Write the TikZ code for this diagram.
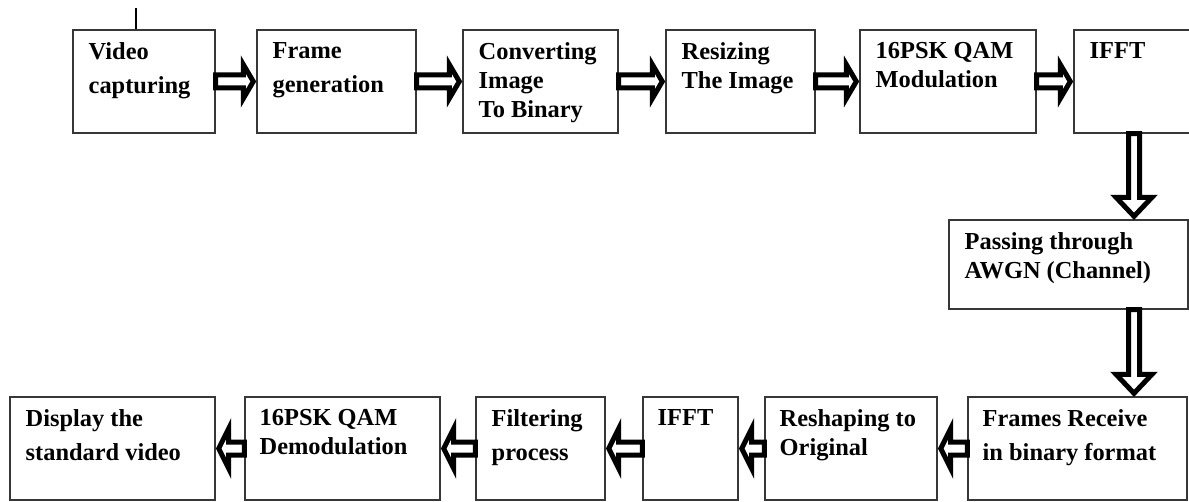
\documentclass[tikz,border=0pt]{standalone}
\usepackage{fontspec}
\setmainfont{Liberation Serif}
\usetikzlibrary{calc}
\definecolor{edge}{RGB}{55,55,55}
\tikzset{
  box/.style     ={rectangle, draw=edge, line width=0.7pt, inner sep=0pt, minimum height=51.5pt},
  txt/.style     ={anchor=north west, inner sep=0pt, align=left,
                   font=\bfseries\fontsize{12.2pt}{17pt}\selectfont},
  tighttxt/.style={txt, font=\bfseries\fontsize{12.2pt}{14.5pt}\selectfont},
  blockarr/.style n args={3}{line width=2.5pt, line join=miter, miter limit=10,
    to path={($(\tikztotarget)!#3!(\tikztostart)$) coordinate (hb)
      ($(\tikztotarget)!1.5pt!(\tikztostart)$) coordinate (tp)
      ($(\tikztostart)!#1!90:(\tikztotarget)$) -- ($(hb)!#1!90:(\tikztotarget)$)
      -- ($(hb)!#2!90:(\tikztotarget)$) -- (tp)
      -- ($(hb)!#2!-90:(\tikztotarget)$) -- ($(hb)!#1!-90:(\tikztotarget)$)
      -- ($(\tikztostart)!#1!-90:(\tikztotarget)$) -- cycle}},
  harr/.style    ={blockarr={3.25pt}{8.5pt}{6.5pt}},
  larr/.style    ={blockarr={3.25pt}{10pt}{6.5pt}},
  varr/.style    ={blockarr={2.75pt}{9pt}{11pt}},
}

\begin{document}
\begin{tikzpicture}[x=0.5pt, y=-0.5pt]
\fill[white] (0,0) rectangle (1189,502);
\path[use as bounding box, clip] (0,0) rectangle (1189,502);

% transmitter row
\node[box, minimum width=71pt]   (vid)  at (144,81.5)    {};
\node[box, minimum width=79.5pt] (frm)  at (336.5,81.5)  {};
\node[box, minimum width=77.5pt] (conv) at (540.5,81.5)  {};
\node[box, minimum width=74.5pt] (resz) at (740.5,81.5)  {};
\node[box, minimum width=88pt]   (mod)  at (948,81.5)    {};
\node[box, minimum width=60pt]   (ifft) at (1134,81.5)   {};

% channel
\node[box, minimum width=119.5pt, minimum height=44.5pt] (pass) at (1068.5,264.5) {};

% receiver row
\node[box, minimum width=109.5pt] (frec)  at (1077.5,448.5) {};
\node[box, minimum width=86pt]    (resh)  at (851,448.5)    {};
\node[box, minimum width=47.5pt]  (bifft) at (690.5,448.5)  {};
\node[box, minimum width=64.5pt]  (filt)  at (540.5,448.5)  {};
\node[box, minimum width=97.5pt]  (demod) at (342.5,448.5)  {};
\node[box, minimum width=102.5pt] (disp)  at (112.5,448.5)  {};

\node[txt]      (vidtxt)   at ($(vid.north west)+(16,13)$)   {Video\\capturing};
\node[txt]      (frmtxt)   at ($(frm.north west)+(16,13)$)   {Frame\\generation};
\node[tighttxt] (convtxt)  at ($(conv.north west)+(16,13)$)  {Converting\\Image\\To Binary};
\node[tighttxt] (resztxt)  at ($(resz.north west)+(16,13)$)  {Resizing\\The Image};
\node[tighttxt] (modtxt)   at ($(mod.north west)+(16,13)$)   {16PSK QAM\\Modulation};
\node[txt]      (iffttxt)  at ($(ifft.north west)+(16,13)$)  {IFFT};
\node[tighttxt] (passtxt)  at ($(pass.north west)+(16,13)$)  {Passing through\\AWGN (Channel)};
\node[txt]      (frectxt)  at ($(frec.north west)+(15,13)$)  {Frames Receive\\in binary format};
\node[tighttxt] (reshtxt)  at ($(resh.north west)+(15,13)$)  {Reshaping to\\Original};
\node[txt]      (biffttxt) at ($(bifft.north west)+(15,13)$) {IFFT};
\node[txt]      (filttxt)  at ($(filt.north west)+(16,13)$)  {Filtering\\process};
\node[tighttxt] (demodtxt) at ($(demod.north west)+(15,13)$) {16PSK QAM\\Demodulation};
\node[txt]      (disptxt)  at ($(disp.north west)+(16,13)$)  {Display the\\standard video};

\coordinate (tick) at (136,8);
\draw[line width=1.2pt] (tick) -- (tick |- vid.north);

\draw[harr] (vid.east)  to (frm.west);
\draw[harr] (frm.east)  to (conv.west);
\draw[harr] (conv.east) to (resz.west);
\draw[harr] (resz.east) to (mod.west);
\draw[harr] (mod.east)  to (ifft.west);
\draw[varr] (ifft.south) to (ifft.south |- pass.north);
\draw[varr] (ifft.south |- pass.south) to (ifft.south |- frec.north);
\draw[larr] (frec.west)  to (resh.east);
\draw[larr] (resh.west)  to (bifft.east);
\draw[larr] (bifft.west) to (filt.east);
\draw[larr] (filt.west)  to (demod.east);
\draw[larr] (demod.west) to (disp.east);
\end{tikzpicture}
\end{document}
